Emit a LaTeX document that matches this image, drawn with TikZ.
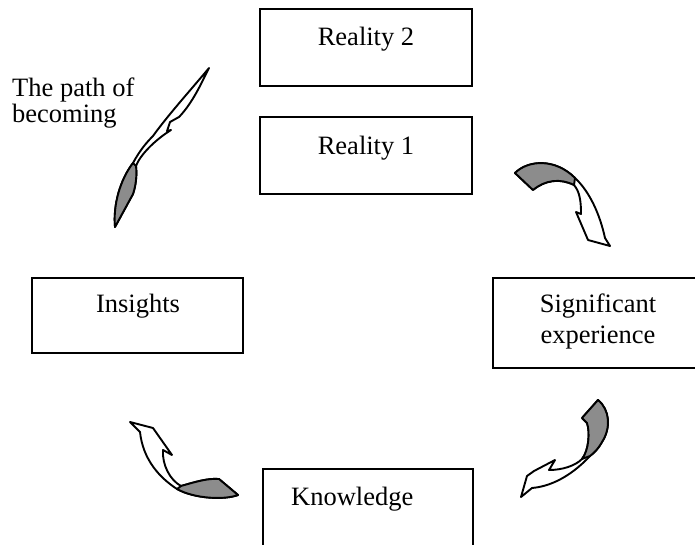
\documentclass[tikz,border=0pt]{standalone}
\usepackage{fontspec}
\setmainfont{Liberation Serif}
\begin{document}
\begin{tikzpicture}[x=1pt,y=-1pt,
  box/.style={draw, line width=2pt, rectangle, inner sep=0pt},
  lbl/.style={inner sep=0pt, font=\fontsize{26.5}{30}\selectfont},
  blockarrow/.style={draw, line width=1.9pt, line join=round, fill=white},
  shade/.style={draw, line width=1.9pt, line join=round, fill=black!45}]
\useasboundingbox (0,0) rectangle (695,545);
\clip (0,0) rectangle (695,545);

% boxes
\node[box, minimum width=212pt, minimum height=77pt] (r2) at (366,47.5) {};
\node[box, minimum width=212pt, minimum height=77pt] (r1) at (366,155.5) {};
\node[box, minimum width=211pt, minimum height=75pt] (ins) at (137.5,315.5) {};
\node[box, minimum width=212pt, minimum height=90pt] (sig) at (599,323) {};
\node[box, minimum width=210pt, minimum height=91pt] (know) at (368,514.5) {};

% labels
\node[lbl, anchor=base] (r2t) at (366,46) {Reality 2};
\node[lbl, anchor=base] (r1t) at (366,155) {Reality 1};
\node[lbl, anchor=base] (inst) at (138,312) {Insights};
\node[lbl, anchor=base] (sigt1) at (598,312) {Significant};
\node[lbl, anchor=base] (sigt2) at (598,343) {experience};
\node[lbl, anchor=base west] (knowt) at (291,505) {Knowledge};
\node[lbl, anchor=base west] (path1) at (12,97) {The path of};
\node[lbl, anchor=base west] (path2) at (12,123) {becoming};

% the path of becoming: long quill-like arrow
\path[blockarrow] (115,227)
  .. controls (113,205) and (120,180) .. (133,163)
  .. controls (140,150) and (147,142) .. (153,136)
  .. controls (168,115) and (195,85) .. (209,68)
  -- (201,84)
  .. controls (194,98) and (186,110) .. (179,117)
  -- (170,122) -- (167,131) -- (171,130)
  .. controls (155,140) and (140,155) .. (136,166)
  .. controls (137,175) and (136,185) .. (133,194)
  -- cycle;
\path[shade] (115,227)
  .. controls (113,205) and (120,180) .. (133,163)
  -- (136,166)
  .. controls (137,175) and (136,185) .. (133,194)
  -- cycle;

% Reality 1 -> Significant experience
\path[blockarrow] (515,173)
  .. controls (528,160) and (555,158) .. (575,178)
  .. controls (590,192) and (600,215) .. (605,238)
  -- (610,246) -- (588,240) -- (576,212) -- (581,214)
  .. controls (581,202) and (580,192) .. (574,185)
  .. controls (560,178) and (545,180) .. (533,190)
  -- cycle;
\path[shade] (515,173)
  .. controls (528,160) and (555,158) .. (575,178)
  -- (574,185)
  .. controls (560,178) and (545,180) .. (533,190)
  -- cycle;

% Significant experience -> Knowledge
\path[blockarrow] (598,400)
  .. controls (610,410) and (611,428) .. (602,442)
  .. controls (598,449) and (595,452) .. (590,456)
  .. controls (575,472) and (555,486) .. (532,488)
  -- (521,497) -- (527,476) -- (534,471) -- (555,460) -- (549,470)
  .. controls (562,470) and (575,466) .. (582,459)
  .. controls (589,450) and (590,432) .. (587,423)
  -- (582,418) -- cycle;
\path[shade] (598,400)
  .. controls (610,410) and (611,428) .. (602,442)
  .. controls (598,449) and (595,452) .. (590,456)
  -- (582,459)
  .. controls (589,450) and (590,432) .. (587,423)
  -- (582,418) -- cycle;

% Knowledge -> Insights
\path[blockarrow] (130,422) -- (153,428) -- (172,455) -- (163,450)
  .. controls (162,465) and (170,480) .. (181,486)
  .. controls (195,482) and (208,478) .. (219,479)
  -- (238,495)
  .. controls (225,500) and (195,499) .. (177,489)
  .. controls (160,478) and (143,460) .. (140,432)
  -- cycle;
\path[shade] (181,486)
  .. controls (195,482) and (208,478) .. (219,479)
  -- (238,495)
  .. controls (225,500) and (195,499) .. (177,489)
  -- cycle;
\end{tikzpicture}
\end{document}
